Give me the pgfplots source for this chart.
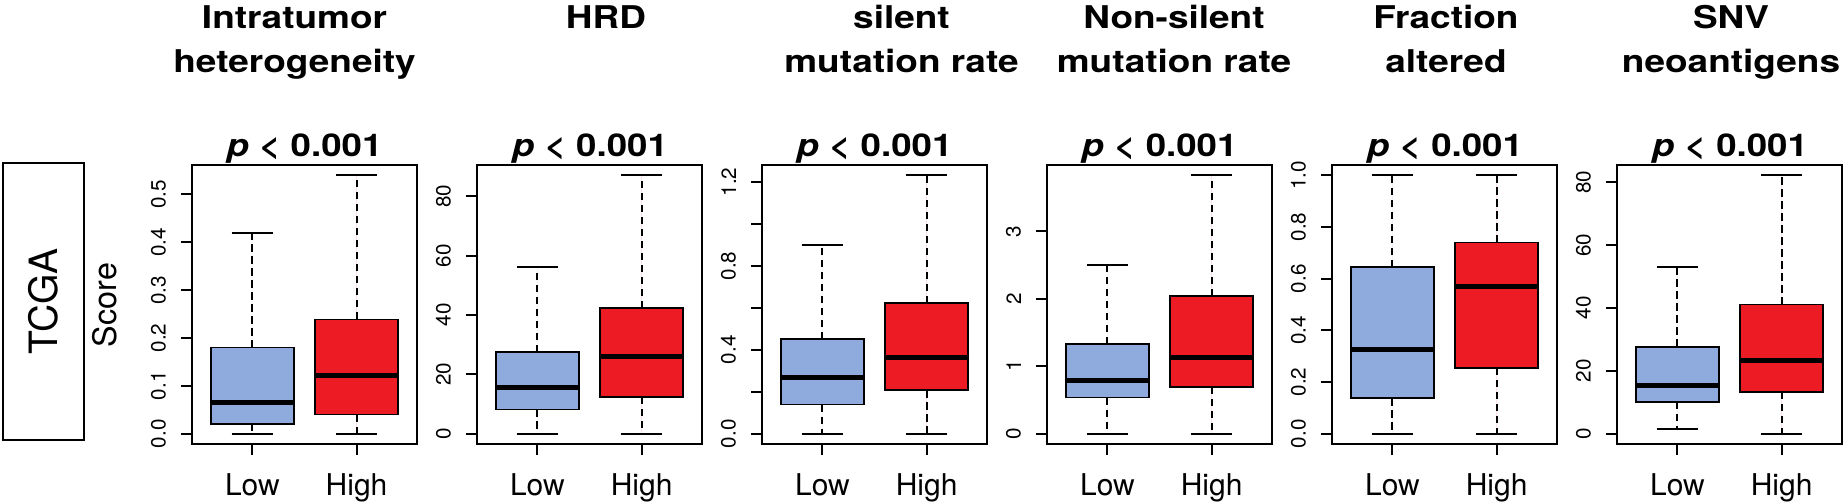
\documentclass[border=0pt]{standalone}
\usepackage{fontspec}
\setmainfont{TeX Gyre Heros}
\usepackage{pgfplots}
\pgfplotsset{compat=1.18}
\usepgfplotslibrary{statistics}

\definecolor{lowblue}{RGB}{143,170,220}
\definecolor{highred}{RGB}{237,28,36}

\newcommand{\ticksize}{\fontsize{6.2}{7}\selectfont}
\newcommand{\catsize}{\fontsize{9}{10}\selectfont}
\newcommand{\headsize}{\fontsize{9.4}{10}\selectfont\bfseries}
\newcommand{\pval}{\scalebox{1.17}[1]{\textbf{\textit{p}} < \textbf{0.001}}}

% R style whiskers: dashed stem, solid staple at the whisker end
\pgfplotsset{
  boxplot/draw/whisker/.code 2 args={%
    \draw[line width=0.6pt, dash pattern=on 2.2pt off 1.4pt]
      (boxplot box cs:#1,0.5) -- (boxplot box cs:#2,0.5);
    \draw[line width=0.6pt] (boxplot box cs:#2,0.25) -- (boxplot box cs:#2,0.75);
  },
}

\pgfplotsset{
  rbox/.style={
    scale only axis, width=67.5pt, height=83.7pt, anchor=south west,
    xmin=0.42, xmax=2.58, xtick={1,2}, xticklabels={Low,High},
    axis line style={line width=0.7pt},
    tick align=outside, major tick length=3.3pt, tick pos=left,
    every tick/.style={black, line width=0.6pt},
    /pgf/number format/assume math mode=true,
    yticklabel style={font=\ticksize, xshift=-4.3pt, rotate=90, anchor=south, inner sep=0pt},
    xticklabel style={font=\catsize, anchor=base, inner sep=0pt, yshift=-12pt},
    boxplot/draw direction=y,
    boxplot/box extend=0.8,
    boxplot/every median/.style={line width=1.5pt},
  },
  lowbox/.style={draw=black, fill=lowblue, line width=0.5pt},
  highbox/.style={draw=black, fill=highred, line width=0.5pt},
}

\begin{document}
\begin{tikzpicture}
\path[use as bounding box] (0pt,0pt) rectangle (553.5pt,-150.9pt);

% row label
\draw[line width=0.8pt] (0.9pt,-48.9pt) rectangle (25.2pt,-132pt);
\node[rotate=90, font=\fontsize{11.7}{12}\selectfont] at (13.05pt,-90.45pt) {TCGA};
\node[rotate=90, font=\fontsize{9.7}{10}\selectfont] at (31.5pt,-91.5pt) {Score};

% headers
\node[font=\headsize, anchor=base] at (88.35pt,-8.4pt) {\scalebox{1.18}[1]{Intratumor}};
\node[font=\headsize, anchor=base] at (88.35pt,-21.6pt) {\scalebox{1.18}[1]{heterogeneity}};
\node[font=\headsize, anchor=base] at (181.8pt,-8.4pt) {\scalebox{1.18}[1]{HRD}};
\node[font=\headsize, anchor=base] at (270.45pt,-8.4pt) {\scalebox{1.18}[1]{silent}};
\node[font=\headsize, anchor=base] at (270.45pt,-21.6pt) {\scalebox{1.18}[1]{mutation rate}};
\node[font=\headsize, anchor=base] at (352.2pt,-8.4pt) {\scalebox{1.18}[1]{Non-silent}};
\node[font=\headsize, anchor=base] at (352.2pt,-21.6pt) {\scalebox{1.18}[1]{mutation rate}};
\node[font=\headsize, anchor=base] at (433.8pt,-8.4pt) {\scalebox{1.18}[1]{Fraction}};
\node[font=\headsize, anchor=base] at (433.8pt,-21.6pt) {\scalebox{1.18}[1]{altered}};
\node[font=\headsize, anchor=base] at (519.3pt,-8.4pt) {\scalebox{1.18}[1]{SNV}};
\node[font=\headsize, anchor=base] at (519.3pt,-21.6pt) {\scalebox{1.18}[1]{neoantigens}};

% p values
\foreach \cx in {91.35,177,262.35,347.85,433.5,519}
  \node[font=\headsize, anchor=base, inner sep=0pt] at (\cx pt,-46.8pt) {\pval};

% Intratumor heterogeneity
\begin{axis}[rbox, at={(57.6pt,-133.2pt)},
  ymin=-0.0216, ymax=0.5616,
  ytick={0,0.1,0.2,0.3,0.4,0.5}, yticklabels={0.0,0.1,0.2,0.3,0.4,0.5}]
\addplot+[lowbox, boxplot prepared={draw position=1,
  lower whisker=0, lower quartile=0.02, median=0.066,
  upper quartile=0.18, upper whisker=0.42}] coordinates {};
\addplot+[highbox, boxplot prepared={draw position=2,
  lower whisker=0, lower quartile=0.04, median=0.122,
  upper quartile=0.239, upper whisker=0.54}] coordinates {};
\end{axis}

% HRD
\begin{axis}[rbox, at={(143.1pt,-133.2pt)},
  ymin=-3.48, ymax=90.48,
  ytick={0,20,40,60,80}, yticklabels={0,20,40,60,80}]
\addplot+[lowbox, boxplot prepared={draw position=1,
  lower whisker=0, lower quartile=8.2, median=15.4,
  upper quartile=27.5, upper whisker=56}] coordinates {};
\addplot+[highbox, boxplot prepared={draw position=2,
  lower whisker=0, lower quartile=12.3, median=26.1,
  upper quartile=42.3, upper whisker=87}] coordinates {};
\end{axis}

% silent mutation rate
\begin{axis}[rbox, at={(228.6pt,-133.2pt)},
  ymin=-0.0493, ymax=1.2813,
  ytick={0,0.2,0.4,0.6,0.8,1.0,1.2}, yticklabels={0.0,{},0.4,{},0.8,{},1.2}]
\addplot+[lowbox, boxplot prepared={draw position=1,
  lower whisker=0, lower quartile=0.139, median=0.268,
  upper quartile=0.45, upper whisker=0.902}] coordinates {};
\addplot+[highbox, boxplot prepared={draw position=2,
  lower whisker=0, lower quartile=0.207, median=0.364,
  upper quartile=0.623, upper whisker=1.232}] coordinates {};
\end{axis}

% Non-silent mutation rate
\begin{axis}[rbox, at={(314.1pt,-133.2pt)},
  ymin=-0.153, ymax=3.983,
  ytick={0,1,2,3}, yticklabels={0,1,2,3}]
\addplot+[lowbox, boxplot prepared={draw position=1,
  lower whisker=0, lower quartile=0.535, median=0.79,
  upper quartile=1.33, upper whisker=2.505}] coordinates {};
\addplot+[highbox, boxplot prepared={draw position=2,
  lower whisker=0, lower quartile=0.69, median=1.13,
  upper quartile=2.04, upper whisker=3.83}] coordinates {};
\end{axis}

% Fraction altered
\begin{axis}[rbox, at={(399.6pt,-133.2pt)},
  ymin=-0.04, ymax=1.04,
  ytick={0,0.2,0.4,0.6,0.8,1.0}, yticklabels={0.0,0.2,0.4,0.6,0.8,1.0}]
\addplot+[lowbox, boxplot prepared={draw position=1,
  lower whisker=0, lower quartile=0.137, median=0.325,
  upper quartile=0.644, upper whisker=1.0}] coordinates {};
\addplot+[highbox, boxplot prepared={draw position=2,
  lower whisker=0, lower quartile=0.255, median=0.571,
  upper quartile=0.74, upper whisker=1.0}] coordinates {};
\end{axis}

% SNV neoantigens
\begin{axis}[rbox, at={(485.1pt,-133.2pt)},
  ymin=-3.29, ymax=85.49,
  ytick={0,20,40,60,80}, yticklabels={0,20,40,60,80}]
\addplot+[lowbox, boxplot prepared={draw position=1,
  lower whisker=1.4, lower quartile=10.1, median=15.4,
  upper quartile=27.65, upper whisker=53}] coordinates {};
\addplot+[highbox, boxplot prepared={draw position=2,
  lower whisker=0, lower quartile=13.3, median=23.4,
  upper quartile=41.05, upper whisker=82.2}] coordinates {};
\end{axis}
\end{tikzpicture}
\end{document}
